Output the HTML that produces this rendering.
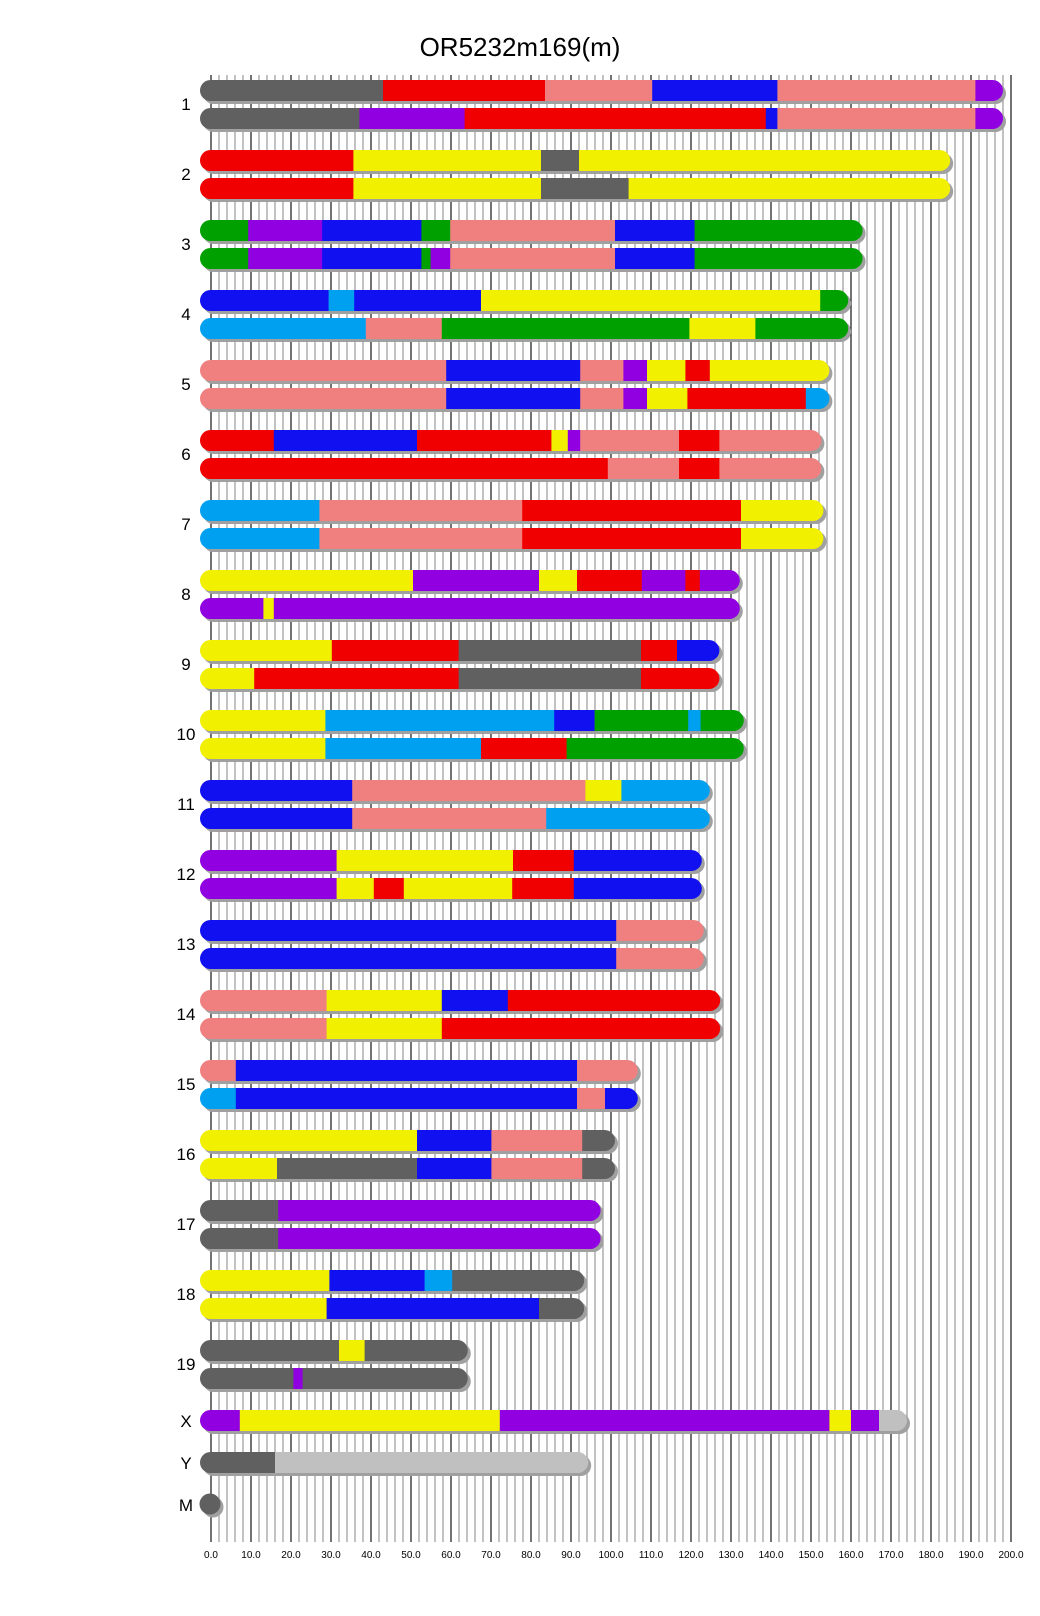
<!DOCTYPE html>
<html><head><meta charset="utf-8"><style>
html,body{margin:0;padding:0;background:#fff;}
svg{display:block;font-family:"Liberation Sans",sans-serif;}
</style></head><body>
<svg id="chart" width="1040" height="1616" viewBox="0 0 1040 1616" xmlns="http://www.w3.org/2000/svg">
<text x="520" y="56" text-anchor="middle" font-size="26" fill="#000">OR5232m169(m)</text>
<g id="grid"></g>
<g id="bars"></g>
<g id="axis"></g>
</svg>
<script>
const chromNames = ["1","2","3","4","5","6","7","8","9","10","11","12","13","14","15","16","17","18","19","X"];
const chromLengths = [198,184.8,162.9,159.3,154.6,152.6,153.1,132.2,127.1,133.2,124.7,122.7,123.2,127.3,106.7,101,97.4,93.3,64.2,174];
// segments: [end position (Mb), colour key]
const hapA = [
 [[43,"gy"],[83.5,"r"],[110.3,"pk"],[141.6,"b"],[191.1,"pk"],[198,"pu"]],
 [[35.6,"r"],[82.5,"y"],[92,"gy"],[184.8,"y"]],
 [[9.3,"g"],[27.8,"pu"],[52.6,"b"],[59.8,"g"],[101,"pk"],[120.9,"b"],[162.9,"g"]],
 [[29.4,"b"],[35.8,"lb"],[67.5,"b"],[152.3,"y"],[159.3,"g"]],
 [[58.8,"pk"],[92.3,"b"],[103.1,"pk"],[109,"pu"],[118.6,"y"],[124.7,"r"],[154.6,"y"]],
 [[15.7,"r"],[51.5,"b"],[85.1,"r"],[89.2,"y"],[92.3,"pu"],[117,"pk"],[127.1,"r"],[152.6,"pk"]],
 [[27.1,"lb"],[77.8,"pk"],[132.5,"r"],[153.1,"y"]],
 [[50.5,"y"],[82,"pu"],[91.5,"y"],[107.7,"r"],[118.6,"pu"],[122.2,"r"],[132.2,"pu"]],
 [[30.2,"y"],[61.9,"r"],[107.5,"gy"],[116.5,"r"],[127.1,"b"]],
 [[28.6,"y"],[85.8,"lb"],[95.9,"b"],[119.3,"g"],[122.4,"lb"],[133.2,"g"]],
 [[35.3,"b"],[93.6,"pk"],[102.6,"y"],[124.7,"lb"]],
 [[31.4,"pu"],[75.5,"y"],[90.7,"r"],[122.7,"b"]],
 [[101.3,"b"],[123.2,"pk"]],
 [[28.9,"pk"],[57.7,"y"],[74.2,"b"],[127.3,"r"]],
 [[6.2,"pk"],[91.5,"b"],[106.7,"pk"]],
 [[51.5,"y"],[70.1,"b"],[92.8,"pk"],[101,"gy"]],
 [[16.8,"gy"],[97.4,"pu"]],
 [[29.6,"y"],[53.4,"b"],[60.3,"lb"],[93.3,"gy"]],
 [[32,"gy"],[38.4,"y"],[64.2,"gy"]],
 [[7.2,"pu"],[72.2,"y"],[154.6,"pu"],[160,"y"],[167,"pu"],[174,"lg"]]
];
const hapB = [
 [[37.1,"gy"],[63.4,"pu"],[138.7,"r"],[141.6,"b"],[191.1,"pk"],[198,"pu"]],
 [[35.6,"r"],[82.5,"y"],[104.4,"gy"],[184.8,"y"]],
 [[9.3,"g"],[27.8,"pu"],[52.6,"b"],[54.9,"g"],[59.8,"pu"],[101,"pk"],[120.9,"b"],[162.9,"g"]],
 [[38.7,"lb"],[57.7,"pk"],[119.6,"g"],[136.1,"y"],[159.3,"g"]],
 [[58.8,"pk"],[92.3,"b"],[103.1,"pk"],[109,"pu"],[119.1,"y"],[148.7,"r"],[154.6,"lb"]],
 [[99.2,"r"],[117,"pk"],[127.1,"r"],[152.6,"pk"]],
 [[27.1,"lb"],[77.8,"pk"],[132.5,"r"],[153.1,"y"]],
 [[13.1,"pu"],[15.7,"y"],[132.2,"pu"]],
 [[10.8,"y"],[61.9,"r"],[107.5,"gy"],[127.1,"r"]],
 [[28.6,"y"],[67.5,"lb"],[88.9,"r"],[133.2,"g"]],
 [[35.3,"b"],[83.8,"pk"],[124.7,"lb"]],
 [[31.4,"pu"],[40.7,"y"],[48.2,"r"],[75.3,"y"],[90.7,"r"],[122.7,"b"]],
 [[101.3,"b"],[123.2,"pk"]],
 [[28.9,"pk"],[57.7,"y"],[127.3,"r"]],
 [[6.2,"lb"],[91.5,"b"],[98.5,"pk"],[106.7,"b"]],
 [[16.5,"y"],[51.5,"gy"],[70.1,"b"],[92.8,"pk"],[101,"gy"]],
 [[16.8,"gy"],[97.4,"pu"]],
 [[28.9,"y"],[82,"b"],[93.3,"gy"]],
 [[20.6,"gy"],[22.9,"pu"],[64.2,"gy"]],
 null
];
const ySegments = [[16,"gy"],[94.3,"lg"]];
const yLength = 94.3;
const tickValues = [0,10,20,30,40,50,60,70,80,90,100,110,120,130,140,150,160,170,180,190,200];
const colors = {gy:"#606060",r:"#f00000",pk:"#f08080",b:"#1010f0",pu:"#9000e0",y:"#f0f000",g:"#00a000",lb:"#00a0f0",lg:"#c0c0c0"};

const NS="http://www.w3.org/2000/svg";
const X0=211, PX=4, H=21, R=10.5;
function xs(v){return X0+PX*v;}
function mk(tag,attrs,parent){const e=document.createElementNS(NS,tag);for(const k in attrs)e.setAttribute(k,attrs[k]);parent.appendChild(e);return e;}

const grid=document.getElementById('grid');
for(let v=0;v<=200;v+=2){
  const l=mk('line',{x1:xs(v),x2:xs(v),y1:75,y2:1542,stroke:v%10===0?'#000':'#a0a0a0','stroke-width':v%10===0?1.1:1.3},grid);
  
  
}
const axis=document.getElementById('axis');
tickValues.forEach(v=>{
  const t=mk('text',{x:xs(v),y:1558,'text-anchor':'middle','font-size':10,fill:'#000'},axis);
  t.textContent=v.toFixed(1);
  
  
});

const bars=document.getElementById('bars');
let clipId=0;
function drawBar(segs,len,y,name){
  const g=mk('g',{},bars);
  
  
  const x1=X0-11, x2=xs(len);
  mk('rect',{x:x1+3,y:y+3,width:x2-x1,height:H,rx:R,ry:R,fill:'#a0a0a0'},g);
  const id='c'+(clipId++);
  const cp=mk('clipPath',{id:id},g);
  mk('rect',{x:x1,y:y,width:x2-x1,height:H,rx:R,ry:R},cp);
  const sg=mk('g',{'clip-path':'url(#'+id+')'},g);
  let prev=0;
  segs.forEach((s,i)=>{
    const sx=i===0?x1:xs(prev);
    const r=mk('rect',{x:sx,y:y,width:xs(s[0])-sx+(i===segs.length-1?1:0.5),height:H,fill:colors[s[1]]},sg);
    
    
    prev=s[0];
  });
}
chromNames.forEach((n,i)=>{
  const y=80+i*70;
  const lab=mk('text',{x:186,y:i===19?y+17:y+30,'text-anchor':'middle','font-size':17,fill:'#000'},bars);
  lab.textContent=n;
  
  
  drawBar(hapA[i],chromLengths[i],y,'chromosome-'+n+'-haplotype-a');
  if(hapB[i]) drawBar(hapB[i],chromLengths[i],y+28,'chromosome-'+n+'-haplotype-b');
});
const ly=mk('text',{x:186,y:1469,'text-anchor':'middle','font-size':17,fill:'#000'},bars);
ly.textContent='Y';


drawBar(ySegments,yLength,1452,'chromosome-y');
const lm=mk('text',{x:186,y:1511,'text-anchor':'middle','font-size':17,fill:'#000'},bars);
lm.textContent='M';


mk('circle',{cx:213,cy:1507,r:10.5,fill:'#a0a0a0'},bars);
const mc=mk('circle',{cx:210,cy:1504,r:10.5,fill:'#606060'},bars);


</script>
</body></html>
